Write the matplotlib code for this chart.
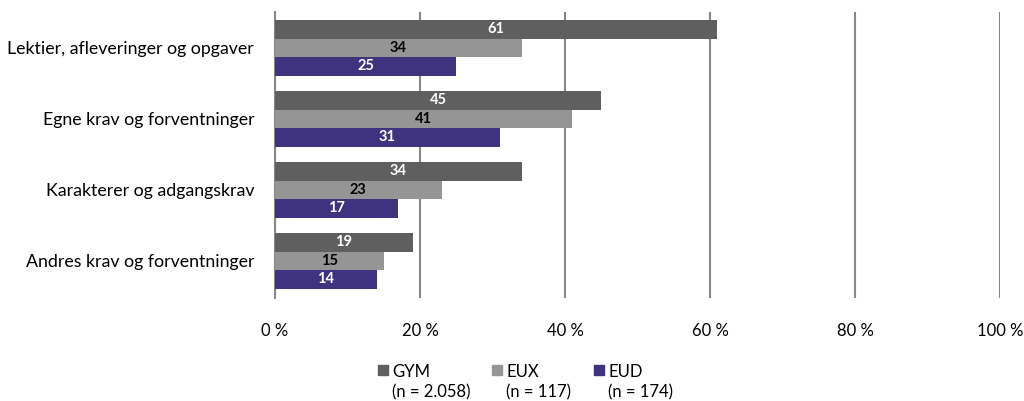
import matplotlib
matplotlib.use("Agg")
from matplotlib import pyplot as plt
from matplotlib.patches import Rectangle

plt.rcParams["font.family"] = ["Lato", "DejaVu Sans"]

categories = [
    "Lektier, afleveringer og opgaver",
    "Egne krav og forventninger",
    "Karakterer og adgangskrav",
    "Andres krav og forventninger",
]
series_names = ["GYM", "EUX", "EUD"]
series_n = ["(n = 2.058)", "(n = 117)", "(n = 174)"]
gym = [61, 45, 34, 19]
eux = [34, 41, 23, 15]
eud = [25, 31, 17, 14]
ticks = [0, 20, 40, 60, 80, 100]

colors = ["#5f5f5f", "#959595", "#3f3380"]
text_colors = ["white", "black", "white"]


def stress_figure():
    fig = plt.figure(figsize=(10.24, 4.01), dpi=100)
    ax = fig.add_axes([275 / 1024, 1 - 298 / 401, 725 / 1024, 286 / 401])

    h = 18.5 / 71
    for j, (vals, c, tc) in enumerate(zip([gym, eux, eud], colors, text_colors)):
        ys = [i + (j - 1) * h for i in range(len(categories))]
        ax.barh(ys, vals, height=h, color=c, zorder=3)
        for y, v in zip(ys, vals):
            ax.text(v / 2, y, str(v), ha="center", va="center", color=tc,
                    fontsize=10.5, fontweight="bold", zorder=4)

    ax.set_xlim(0, 100)
    ax.set_ylim(3 + 37.25 / 71, -35.75 / 71)
    ax.set_xticks(ticks)
    ax.set_xticklabels([f"{t} %" for t in ticks], fontsize=12)
    ax.set_yticks(range(len(categories)))
    ax.set_yticklabels(categories, fontsize=12.8)
    ax.tick_params(axis="x", length=0, pad=18)
    ax.tick_params(axis="y", length=0, pad=15)

    ax.grid(axis="x", color="#888888", linewidth=1.5, zorder=0)
    for s in ["top", "right", "bottom"]:
        ax.spines[s].set_visible(False)
    ax.spines["left"].set_color("#888888")
    ax.spines["left"].set_linewidth(1.5)

    # legend
    xs = [378, 492, 594]
    for x, name, n, c in zip(xs, series_names, series_n, colors):
        fig.patches.append(Rectangle((x / 1024, 1 - 375 / 401), 10 / 1024, 10 / 401,
                                     transform=fig.transFigure, color=c))
        fig.text((x + 14) / 1024, 1 - 372 / 401, name, fontsize=12, va="center")
        fig.text((x + 14) / 1024, 1 - 392 / 401, n, fontsize=12, va="center")

    fig.savefig("out.png", dpi=100)


def main():
    stress_figure()


if __name__ == "__main__":
    main()
